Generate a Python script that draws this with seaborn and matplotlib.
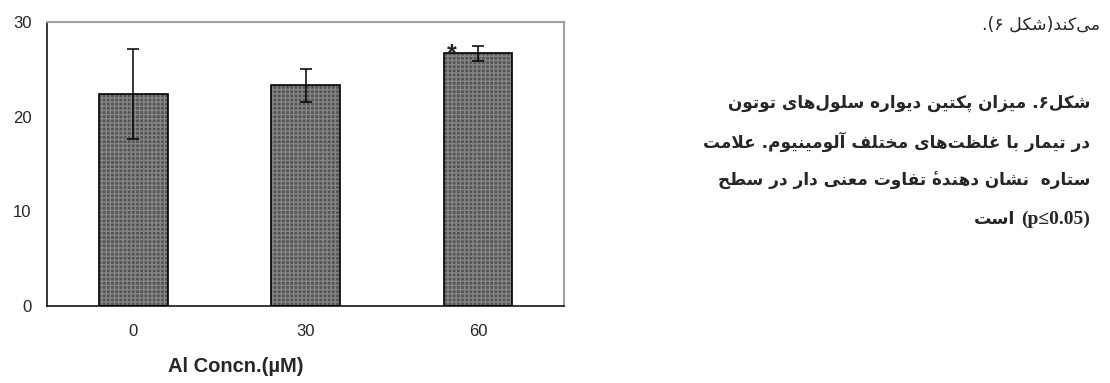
import matplotlib
matplotlib.use('Agg')
import matplotlib.pyplot as plt
import seaborn as sns
import pandas as pd

# chart data
concn = ['0', '30', '60']
pectin = [22.4, 23.3, 26.7]
pectin_err = [4.8, 1.7, 0.8]
signif = ['', '', '*']
y_ticks = [0, 10, 20, 30]
x_label = 'Al Concn.(µM)'

# persian text next to the chart (logical order)
top_line = 'می\u200cکند(شکل ۶).'
caption_lines = [
    'شکل۶. میزان پکتین دیواره سلول\u200cهای توتون',
    'در تیمار با غلظت\u200cهای مختلف آلومینیوم. علامت',
    'ستاره  نشان دهنده\u0654 تفاوت معنی دار در سطح',
]
last_fa = 'است'
last_latin = '(p≤0.05)'

# isolated, final, initial, medial
FORMS = {
    'ا': ('\uFE8D', '\uFE8E', None, None),
    'آ': ('\uFE81', '\uFE82', None, None),
    'ب': ('\uFE8F', '\uFE90', '\uFE91', '\uFE92'),
    'پ': ('\uFB56', '\uFB57', '\uFB58', '\uFB59'),
    'ت': ('\uFE95', '\uFE96', '\uFE97', '\uFE98'),
    'ح': ('\uFEA1', '\uFEA2', '\uFEA3', '\uFEA4'),
    'خ': ('\uFEA5', '\uFEA6', '\uFEA7', '\uFEA8'),
    'د': ('\uFEA9', '\uFEAA', None, None),
    'ر': ('\uFEAD', '\uFEAE', None, None),
    'ز': ('\uFEAF', '\uFEB0', None, None),
    'س': ('\uFEB1', '\uFEB2', '\uFEB3', '\uFEB4'),
    'ش': ('\uFEB5', '\uFEB6', '\uFEB7', '\uFEB8'),
    'ط': ('\uFEC1', '\uFEC2', '\uFEC3', '\uFEC4'),
    'ظ': ('\uFEC5', '\uFEC6', '\uFEC7', '\uFEC8'),
    'ع': ('\uFEC9', '\uFECA', '\uFECB', '\uFECC'),
    'غ': ('\uFECD', '\uFECE', '\uFECF', '\uFED0'),
    'ف': ('\uFED1', '\uFED2', '\uFED3', '\uFED4'),
    'ک': ('\uFB8E', '\uFB8F', '\uFB90', '\uFB91'),
    'ل': ('\uFEDD', '\uFEDE', '\uFEDF', '\uFEE0'),
    'م': ('\uFEE1', '\uFEE2', '\uFEE3', '\uFEE4'),
    'ن': ('\uFEE5', '\uFEE6', '\uFEE7', '\uFEE8'),
    'ه': ('\uFEE9', '\uFEEA', '\uFEEB', '\uFEEC'),
    'و': ('\uFEED', '\uFEEE', None, None),
    'ی': ('\uFBFC', '\uFBFD', '\uFBFE', '\uFBFF'),
}
LAM_ALEF = {'ا': ('\uFEFB', '\uFEFC'), 'آ': ('\uFEF5', '\uFEF6')}
MIRROR = {'(': ')', ')': '('}


def rtl(text):
    # contextual letter forms + reversed order, matplotlib does no shaping itself
    toks = []
    i = 0
    while i < len(text):
        if text[i] == 'ل' and i + 1 < len(text) and text[i + 1] in LAM_ALEF:
            toks.append(('LA', text[i + 1]))
            i += 2
        else:
            toks.append((text[i], None))
            i += 1

    def is_ar(t):
        return t[0] == 'LA' or t[0] in FORMS

    def joins_next(t):
        return t[0] in FORMS and FORMS[t[0]][2] is not None

    out = []
    for k, t in enumerate(toks):
        if not is_ar(t):
            if t[0] != '\u200c':
                out.append(MIRROR.get(t[0], t[0]))
            continue
        p = k > 0 and joins_next(toks[k - 1])
        n = joins_next(t) and k + 1 < len(toks) and is_ar(toks[k + 1])
        if t[0] == 'LA':
            out.append(LAM_ALEF[t[1]][1 if p else 0])
        else:
            iso, fin, ini, med = FORMS[t[0]]
            out.append(med if (p and n) else fin if p else ini if n else iso)
    return ''.join(reversed(out))


sns.set_style('white')
plt.rcParams['font.family'] = ['Liberation Sans', 'DejaVu Sans']

df = pd.DataFrame({'concn': concn, 'pectin': pectin})

fig = plt.figure(figsize=(11.1, 3.83), dpi=100)
ax = fig.add_axes([0.0423, 0.201, 0.466, 0.7415])

# textured fill first, then the black outline on top
sns.barplot(data=df, x='concn', y='pectin', order=concn, color='#555555',
            width=0.4, errorbar=None, ax=ax)
for p in ax.patches:
    p.set_hatch('++++')
    p.set_edgecolor('#858585')
    p.set_linewidth(0)
sns.barplot(data=df, x='concn', y='pectin', order=concn, fill=False,
            edgecolor='black', linewidth=1.2, width=0.4, errorbar=None, ax=ax)
ax.errorbar(range(len(concn)), pectin, yerr=pectin_err, fmt='none',
            ecolor='black', elinewidth=1.1, capsize=4.5, capthick=1.1)
for i, s in enumerate(signif):
    if s:
        ax.text(i - 0.15, pectin[i] - 0.9, s, ha='center', va='baseline',
                fontsize=18, fontweight='bold')

ax.set_xlim(-0.5, 2.5)
ax.set_ylim(0, 30)
ax.set_yticks(y_ticks)
ax.set_xticks(range(len(concn)))
ax.set_xticklabels(concn)
ax.set_xticks([-0.5, 0.5, 1.5, 2.5], minor=True)
ax.tick_params(axis='x', which='major', length=0, pad=13, labelsize=12)
ax.tick_params(axis='x', which='minor', length=5, width=1, color='black', direction='out')
ax.tick_params(axis='y', length=5, width=1, color='black', direction='out', pad=6, labelsize=12)
ax.set_xlabel('')
ax.set_ylabel('')
for side in ['left', 'bottom']:
    ax.spines[side].set_color('black')
    ax.spines[side].set_linewidth(1.1)
for side in ['top', 'right']:
    ax.spines[side].set_color('#a0a0a0')
    ax.spines[side].set_linewidth(1.5)

fig.text(236 / 1110, 1 - 366 / 383, x_label, ha='center', va='center',
         fontsize=14.5, fontweight='bold')

# persian paragraph on the right
fa_font = ['DejaVu Sans']
right_x = 1090 / 1110
fig.text(1100 / 1110, 1 - 30 / 383, rtl(top_line), ha='right', va='baseline',
         fontsize=12.5, family=fa_font)
baselines = [108, 148, 186]
for line, yb in zip(caption_lines, baselines):
    fig.text(right_x, 1 - yb / 383, rtl(line), ha='right', va='baseline',
             fontsize=12.2, fontweight='bold', family=fa_font)

fig.canvas.draw()
r = fig.canvas.get_renderer()
lat = fig.text(right_x, 1 - 224 / 383, last_latin, ha='right', va='baseline',
               fontsize=14, fontweight='bold', family=['Liberation Serif'])
bb = lat.get_window_extent(renderer=r)
fig.text((bb.x0 - 6) / 1110, 1 - 224 / 383, rtl(last_fa), ha='right', va='baseline',
         fontsize=12.5, fontweight='bold', family=fa_font)

fig.savefig('out.png', dpi=100)
